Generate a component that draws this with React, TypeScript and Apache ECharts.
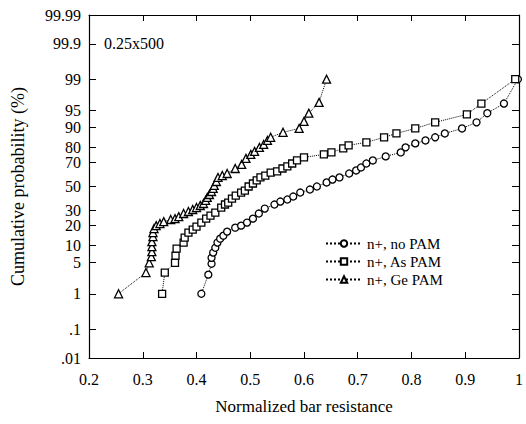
import React, { useEffect, useRef } from "react";
import * as echarts from "echarts";

// Probability-axis tick levels (%) and labels
const probTicks = [0.01, 0.1, 1, 5, 10, 20, 30, 50, 70, 80, 90, 95, 99, 99.9, 99.99];
const probLabels = [".01", ".1", "1", "5", "10", "20", "30", "50", "70", "80", "90", "95", "99", "99.9", "99.99"];
const xTickLabels = ["0.2", "0.3", "0.4", "0.5", "0.6", "0.7", "0.8", "0.9", "1"];

// n+, no PAM (circles): normalized resistance and cumulative probability (%)
const noPamX = [0.409, 0.422, 0.428, 0.428, 0.431, 0.435, 0.439, 0.444, 0.45, 0.457, 0.472, 0.483, 0.494, 0.505, 0.516, 0.527, 0.545, 0.556, 0.569, 0.58, 0.593, 0.611, 0.624, 0.642, 0.653, 0.666, 0.684, 0.697, 0.706, 0.716, 0.728, 0.752, 0.78, 0.789, 0.807, 0.826, 0.844, 0.862, 0.894, 0.921, 0.941, 0.972, 0.998];
const noPamP = [1, 2.8, 4.7, 6.1, 7.6, 9.2, 11.2, 12.9, 14.3, 16.4, 18.6, 19.8, 21.7, 24.3, 27.9, 31.6, 34.8, 37.2, 38.9, 41.4, 44.8, 47.4, 50, 53.5, 56, 57.8, 61.1, 63.6, 66, 69.1, 71.4, 74.3, 77, 80.2, 82.5, 84.1, 85.7, 87.5, 89.6, 91.8, 94.4, 96.4, 99];

// n+, As PAM (squares)
const asPamX = [0.336, 0.341, 0.36, 0.361, 0.363, 0.376, 0.378, 0.385, 0.393, 0.4, 0.409, 0.418, 0.426, 0.435, 0.446, 0.453, 0.459, 0.466, 0.473, 0.483, 0.49, 0.497, 0.505, 0.512, 0.519, 0.528, 0.538, 0.55, 0.56, 0.569, 0.578, 0.587, 0.6, 0.637, 0.651, 0.673, 0.683, 0.716, 0.749, 0.772, 0.807, 0.844, 0.903, 0.93, 0.993];
const asPamP = [1, 3.1, 4.9, 6.7, 8.9, 11.2, 13.4, 15.9, 17.5, 19.2, 21.7, 24.3, 26.4, 28.6, 32.4, 34.8, 36.4, 39.7, 42.2, 44.8, 46.5, 50, 52.6, 55.2, 57.8, 59.4, 61.9, 62.8, 65.2, 66.8, 69.1, 71.4, 73.6, 75.7, 77, 79.6, 81.4, 83.1, 85.7, 87.5, 89.6, 91.8, 94.1, 96.4, 99];

// n+, Ge PAM (triangles)
const gePamX = [0.255, 0.306, 0.312, 0.316, 0.317, 0.317, 0.317, 0.319, 0.319, 0.321, 0.325, 0.332, 0.339, 0.352, 0.36, 0.367, 0.376, 0.385, 0.393, 0.4, 0.407, 0.413, 0.417, 0.42, 0.424, 0.428, 0.431, 0.433, 0.437, 0.44, 0.448, 0.457, 0.472, 0.484, 0.492, 0.501, 0.508, 0.517, 0.525, 0.532, 0.538, 0.561, 0.591, 0.6, 0.609, 0.628, 0.642];
const gePamP = [1, 3.1, 4.9, 6.4, 7.9, 9.6, 11.6, 13.9, 15.9, 18.1, 19.8, 21.1, 22.3, 23.7, 24.3, 25.7, 27.9, 29.4, 30.9, 32.4, 34, 35.6, 38.1, 40.6, 43.1, 45.7, 48.3, 50.9, 54.3, 57.8, 59.4, 61.1, 65.2, 68.4, 72.9, 75.7, 77.7, 80.2, 81.9, 84.1, 85.7, 88, 89.6, 92.1, 94.4, 96.6, 99];

const seriesNames = ["n+, no PAM", "n+, As PAM", "n+, Ge PAM"];

// inverse standard normal CDF (Acklam)
function probit(p: number): number {
  const a = [-3.969683028665376e1, 2.209460984245205e2, -2.759285104469687e2, 1.38357751867269e2, -3.066479806614716e1, 2.506628277459239];
  const b = [-5.447609879822406e1, 1.615858368580409e2, -1.556989798598866e2, 6.680131188771972e1, -1.328068155288572e1];
  const c = [-7.784894002430293e-3, -3.223964580411365e-1, -2.400758277161838, -2.549732509001393, 4.374664141464968, 2.938163982698783];
  const d = [7.784695709041462e-3, 3.224671290700398e-1, 2.445134137142996, 3.754408661907416];
  const plow = 0.02425;
  const phigh = 1 - plow;
  if (p < plow) {
    const q = Math.sqrt(-2 * Math.log(p));
    return (((((c[0] * q + c[1]) * q + c[2]) * q + c[3]) * q + c[4]) * q + c[5]) / ((((d[0] * q + d[1]) * q + d[2]) * q + d[3]) * q + 1);
  }
  if (p <= phigh) {
    const q = p - 0.5;
    const r = q * q;
    return ((((((a[0] * r + a[1]) * r + a[2]) * r + a[3]) * r + a[4]) * r + a[5]) * q) / (((((b[0] * r + b[1]) * r + b[2]) * r + b[3]) * r + b[4]) * r + 1);
  }
  const q = Math.sqrt(-2 * Math.log(1 - p));
  return -(((((c[0] * q + c[1]) * q + c[2]) * q + c[3]) * q + c[4]) * q + c[5]) / ((((d[0] * q + d[1]) * q + d[2]) * q + d[3]) * q + 1);
}

const FONT = "Liberation Serif";

export default function App() {
  const ref = useRef<HTMLDivElement>(null);
  useEffect(() => {
    if (!ref.current) return;
    const chart = echarts.init(ref.current, undefined, { renderer: "svg" });
    const zTicks = probTicks.map((p) => probit(p / 100));
    const zMin = zTicks[0];
    const zMax = zTicks[zTicks.length - 1];
    const labelFor = (v: number) => {
      let best = 0;
      let bd = Infinity;
      zTicks.forEach((z, i) => {
        const dd = Math.abs(z - v);
        if (dd < bd) {
          bd = dd;
          best = i;
        }
      });
      return probLabels[best];
    };
    const mk = (xs: number[], ps: number[]) => xs.map((x, i) => [x, probit(ps[i] / 100)]);
    const symbols = ["circle", "rect", "triangle"];
    const sizes = [7, 7, 8];
    const datas = [mk(noPamX, noPamP), mk(asPamX, asPamP), mk(gePamX, gePamP)];
    const tickStyle = { color: "#000", width: 1 };
    const richX = { t: { fontFamily: FONT, fontSize: 16, color: "#000" } };
    const richY = { t: { fontFamily: FONT, fontSize: 16, color: "#000", lineHeight: 11 } };
    chart.setOption({
      animation: false,
      backgroundColor: "#fff",
      textStyle: { fontFamily: FONT },
      grid: { left: 89, right: 2, top: 15, bottom: 66, containLabel: false },
      graphic: [
        {
          type: "text",
          left: 104,
          top: 35,
          style: { text: "0.25x500", fontFamily: FONT, fontSize: 16, fill: "#000" },
        },
      ],
      legend: {
        orient: "vertical",
        left: 320,
        top: 231,
        itemWidth: 36,
        itemHeight: 8,
        itemGap: 3,
        textStyle: { fontFamily: FONT, fontSize: 15, color: "#000" },
        data: seriesNames,
      },
      xAxis: [
        {
          type: "value",
          min: 0.2,
          max: 1,
          interval: 0.1,
          position: "bottom",
          name: "Normalized bar resistance",
          nameLocation: "middle",
          nameGap: 40,
          nameTextStyle: { fontFamily: FONT, fontSize: 17, color: "#000" },
          axisLine: { onZero: false, lineStyle: { color: "#000", width: 1.2 } },
          axisTick: { inside: true, length: 6, lineStyle: tickStyle },
          axisLabel: {
            fontFamily: FONT,
            fontSize: 16,
            color: "#000",
            margin: 13,
            rich: richX,
            formatter: (v: number) => `{t|${xTickLabels[Math.round((v - 0.2) * 10)] ?? ""}}`,
          },
          splitLine: { show: false },
        },
        {
          type: "value",
          min: 0.2,
          max: 1,
          interval: 0.1,
          position: "top",
          axisLine: { onZero: false, lineStyle: { color: "#000", width: 1 } },
          axisTick: { inside: true, length: 6, lineStyle: tickStyle },
          axisLabel: { show: false },
          splitLine: { show: false },
        },
      ],
      yAxis: [
        {
          type: "value",
          min: zMin,
          max: zMax,
          position: "left",
          name: "Cumulative probability (%)",
          nameLocation: "middle",
          nameRotate: 90,
          nameGap: 62,
          nameTextStyle: { fontFamily: FONT, fontSize: 18, color: "#000" },
          axisLine: { onZero: false, lineStyle: { color: "#000", width: 1.2 } },
          axisTick: { inside: true, length: 7, lineStyle: tickStyle, customValues: zTicks },
          axisLabel: {
            fontFamily: FONT,
            fontSize: 16,
            lineHeight: 11,
            color: "#000",
            margin: 8,
            rich: richY,
            customValues: zTicks,
            formatter: (v: number) => `{t|${labelFor(v)}}`,
          },
          splitLine: { show: false },
        },
        {
          type: "value",
          min: zMin,
          max: zMax,
          position: "right",
          axisLine: { onZero: false, lineStyle: { color: "#000", width: 1.2 } },
          axisTick: { inside: true, length: 7, lineStyle: tickStyle, customValues: zTicks },
          axisLabel: { show: false },
          splitLine: { show: false },
        },
      ],
      series: datas.map((data, i) => ({
        name: seriesNames[i],
        type: "line",
        xAxisIndex: 0,
        yAxisIndex: 0,
        data,
        symbol: symbols[i],
        symbolSize: sizes[i],
        showAllSymbol: true,
        lineStyle: { color: "#000", width: 1, type: "dotted" },
        itemStyle: { color: "#fff", borderColor: "#000", borderWidth: 1.3 },
        emphasis: { disabled: true },
      })),
    });
    return () => chart.dispose();
  }, []);
  return (
    <div
      ref={ref}
      style={{ position: "fixed", left: 0, top: 0, width: 526, height: 424 }}
    />
  );
}
